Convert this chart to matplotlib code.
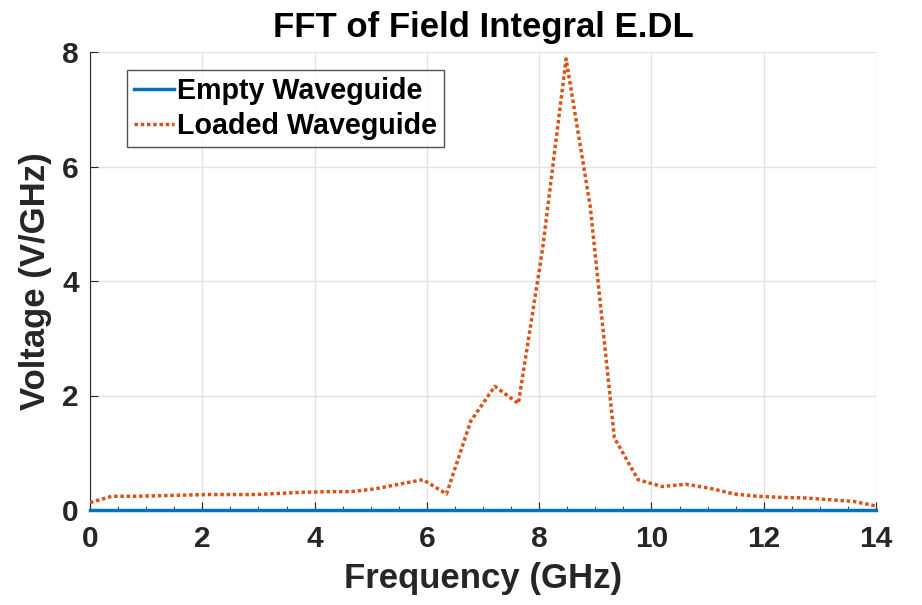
import numpy as np
import matplotlib
matplotlib.use('Agg')
import matplotlib.pyplot as plt
from matplotlib.ticker import MultipleLocator

plt.rcParams['font.family'] = ['Liberation Sans', 'DejaVu Sans']
plt.rcParams['font.weight'] = 'bold'

# data
freq_empty = [0.0, 14.0]
volt_empty = [0.0, 0.0]

freq_loaded = [0.0, 0.39, 0.82, 1.24, 1.67, 2.09, 2.52, 2.95, 3.37, 3.80, 4.22,
               4.65, 5.08, 5.50, 5.93, 6.35, 6.78, 7.21, 7.63, 8.06, 8.48,
               8.91, 9.34, 9.76, 10.19, 10.61, 11.04, 11.47, 11.89, 12.32,
               12.74, 13.17, 13.60, 14.0]
volt_loaded = [0.13, 0.24, 0.24, 0.25, 0.26, 0.27, 0.27, 0.27, 0.29, 0.31, 0.32,
               0.32, 0.37, 0.45, 0.53, 0.28, 1.55, 2.16, 1.86, 4.55, 7.88,
               5.3, 1.26, 0.53, 0.41, 0.45, 0.38, 0.28, 0.24, 0.22,
               0.21, 0.18, 0.15, 0.07]

fig = plt.figure(figsize=(9.22, 6.05), dpi=100)
ax = fig.add_axes([90/922, 1 - 510/605, (876-90)/922, (510-52)/605])

ax.plot(freq_empty, volt_empty, color='#0072BD', linewidth=2.5,
        label='Empty Waveguide', clip_on=False, zorder=4)
ax.plot(freq_loaded, volt_loaded, color='#D95319', linewidth=2.5,
        linestyle=(0, (1, 0.8)), label='Loaded Waveguide', zorder=3)

ax.set_xlim(0, 14)
ax.set_ylim(0, 8)
ax.set_xticks(np.arange(0, 15, 2))
ax.set_yticks(np.arange(0, 9, 2))
ax.xaxis.set_minor_locator(MultipleLocator(0.5))
ax.tick_params(axis='both', which='both', direction='in', colors='#262626',
               labelsize=21.5)
ax.tick_params(axis='x', which='major', length=6, pad=11)
ax.tick_params(axis='x', which='minor', length=3)
ax.tick_params(axis='y', length=6, pad=8)
for lab in ax.get_xticklabels() + ax.get_yticklabels():
    lab.set_fontweight('bold')

ax.grid(True, color='#e2e2e2', linewidth=1)
ax.set_axisbelow(True)
ax.spines['top'].set_visible(False)
ax.spines['right'].set_visible(False)
ax.spines['left'].set_color('#262626')
ax.spines['bottom'].set_color('#262626')

ax.set_title('FFT of Field Integral E.DL', fontsize=25, fontweight='bold',
             color='black', pad=11)
ax.set_xlabel('Frequency (GHz)', fontsize=25, fontweight='bold',
              color='#262626', labelpad=6)
ax.set_ylabel('Voltage (V/GHz)', fontsize=25, fontweight='bold',
              color='#262626', labelpad=7)

leg = ax.legend(loc='upper left', bbox_to_anchor=(0.047, 0.961), fontsize=20.6,
                frameon=True, fancybox=False, handlelength=1.4,
                handletextpad=0.1, borderpad=0.25, labelspacing=0.25,
                borderaxespad=0)
leg.get_frame().set_edgecolor('#262626')
leg.get_frame().set_linewidth(1)
for t in leg.get_texts():
    t.set_fontweight('bold')

fig.savefig('out.png', dpi=100)
